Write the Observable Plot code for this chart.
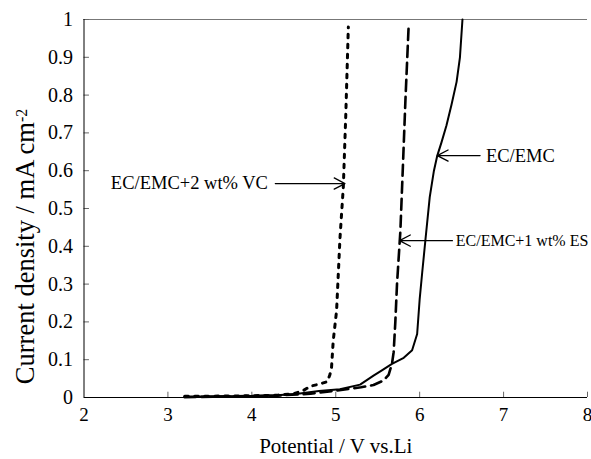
<!DOCTYPE html>
<html><head><meta charset="utf-8">
<script src="https://cdn.jsdelivr.net/npm/d3@7"></script>
<script src="https://cdn.jsdelivr.net/npm/@observablehq/plot@0.6"></script>
<style>body{margin:0;background:#fff} svg{overflow:visible}</style>
</head><body><div id="chart"></div>
<script>
const xTicks = [2, 3, 4, 5, 6, 7, 8];
const yTicks = [0, 0.1, 0.2, 0.3, 0.4, 0.5, 0.6, 0.7, 0.8, 0.9, 1];

const ecX = [3.2, 3.6, 4.0, 4.3, 4.55, 4.8, 5.05, 5.29, 5.45, 5.55, 5.67, 5.81, 5.91, 5.97, 6.0, 6.03, 6.07, 6.12, 6.17, 6.21, 6.26, 6.32, 6.38, 6.44, 6.48, 6.51];
const ecY = [0.002, 0.003, 0.004, 0.006, 0.01, 0.017, 0.022, 0.034, 0.058, 0.072, 0.089, 0.105, 0.125, 0.168, 0.26, 0.33, 0.42, 0.53, 0.6, 0.64, 0.675, 0.72, 0.775, 0.835, 0.9, 1.0];

const esX = [3.2, 3.8, 4.3, 4.7, 5.0, 5.3, 5.45, 5.57, 5.63, 5.67, 5.69, 5.71, 5.73, 5.77, 5.8, 5.83, 5.87];
const esY = [0.001, 0.003, 0.005, 0.01, 0.018, 0.027, 0.033, 0.045, 0.06, 0.089, 0.12, 0.2, 0.3, 0.44, 0.61, 0.785, 0.99];

const vcX = [3.2, 3.8, 4.3, 4.5, 4.61, 4.7, 4.8, 4.9, 4.93, 4.95, 4.97, 5.01, 5.05, 5.09, 5.12, 5.15];
const vcY = [0.003, 0.004, 0.006, 0.01, 0.018, 0.03, 0.035, 0.042, 0.06, 0.08, 0.15, 0.23, 0.42, 0.556, 0.75, 0.98];

const labels = ["EC/EMC+2 wt% VC", "EC/EMC", "EC/EMC+1 wt% ES"];
const labelX = [2.32, 6.79, 6.43];
const labelY = [0.566, 0.64, 0.415];
const arrowFromX = [4.28, 6.72, 6.39];
const arrowToX = [5.11, 6.21, 5.76];

const xTitle = "Potential / V vs.Li";
const yTitle = "Current density / mA cm";
const yTitleSup = "-2";

const toRows = (xs, ys) => xs.map((x, i) => ({x, y: ys[i]}));
const ec = toRows(ecX, ecY), es = toRows(esX, esY), vc = toRows(vcX, vcY);
const ann = labels.map((t, i) => ({t, lx: labelX[i], y: labelY[i], x1: arrowFromX[i], x2: arrowToX[i]}));

const chart = Plot.plot({
  width: 591, height: 459,
  marginLeft: 83.5, marginRight: 4, marginTop: 19, marginBottom: 62,
  x: {domain: [2, 8]},
  y: {domain: [0, 1]},
  style: {fontFamily: "'Liberation Serif', 'Times New Roman', serif", color: "#000", background: "#fff"},
  marks: [
    Plot.ruleY([1], {stroke: "#777", strokeWidth: 1}),
    Plot.ruleX(xTicks.slice(1), {y1: 0, y2: 0.014, stroke: "#666"}),
    Plot.ruleY(yTicks.slice(1), {x1: 2, x2: 2.065, stroke: "#666"}),
    Plot.ruleX([2], {stroke: "#000", strokeWidth: 1}),
    Plot.ruleY([0], {stroke: "#000", strokeWidth: 1}),
    Plot.axisX(xTicks, {tickSize: 0, tickPadding: 10, fontSize: 19, label: null}),
    Plot.axisY(yTicks, {tickSize: 0, tickPadding: 11, fontSize: 20, label: null, tickFormat: d => String(+d.toFixed(1))}),
    Plot.line(ec, {x: "x", y: "y", stroke: "#000", strokeWidth: 2}),
    Plot.line(es, {x: "x", y: "y", stroke: "#000", strokeWidth: 2.6, strokeDasharray: "11,6"}),
    Plot.line(vc, {x: "x", y: "y", stroke: "#000", strokeWidth: 3, strokeDasharray: "3.5,6.5"}),
    Plot.arrow(ann, {x1: "x1", y1: "y", x2: "x2", y2: "y", stroke: "#000", strokeWidth: 1.3, headLength: 14, headAngle: 55}),
    Plot.text(ann.slice(0, 2), {x: "lx", y: "y", text: "t", textAnchor: "start", fontSize: 18.5, fill: "#000"}),
    Plot.text(ann.slice(2), {x: "lx", y: "y", text: "t", textAnchor: "start", fontSize: 16, fill: "#000"}),
    Plot.text([xTitle], {frameAnchor: "bottom", lineAnchor: "middle", textAnchor: "middle", dy: 49, fontSize: 21, fill: "#000"}),
    Plot.text([yTitle], {frameAnchor: "left", textAnchor: "middle", lineAnchor: "middle", rotate: -90, dx: -58, dy: 38, fontSize: 26.5, fill: "#000"})
  ]
});
document.getElementById("chart").appendChild(chart);
d3.select(chart).selectAll("text").filter(function() { return this.textContent === yTitle; })
  .append("tspan").attr("dy", "-0.5em").attr("font-size", "0.6em").text(yTitleSup);
</script>
</body></html>
